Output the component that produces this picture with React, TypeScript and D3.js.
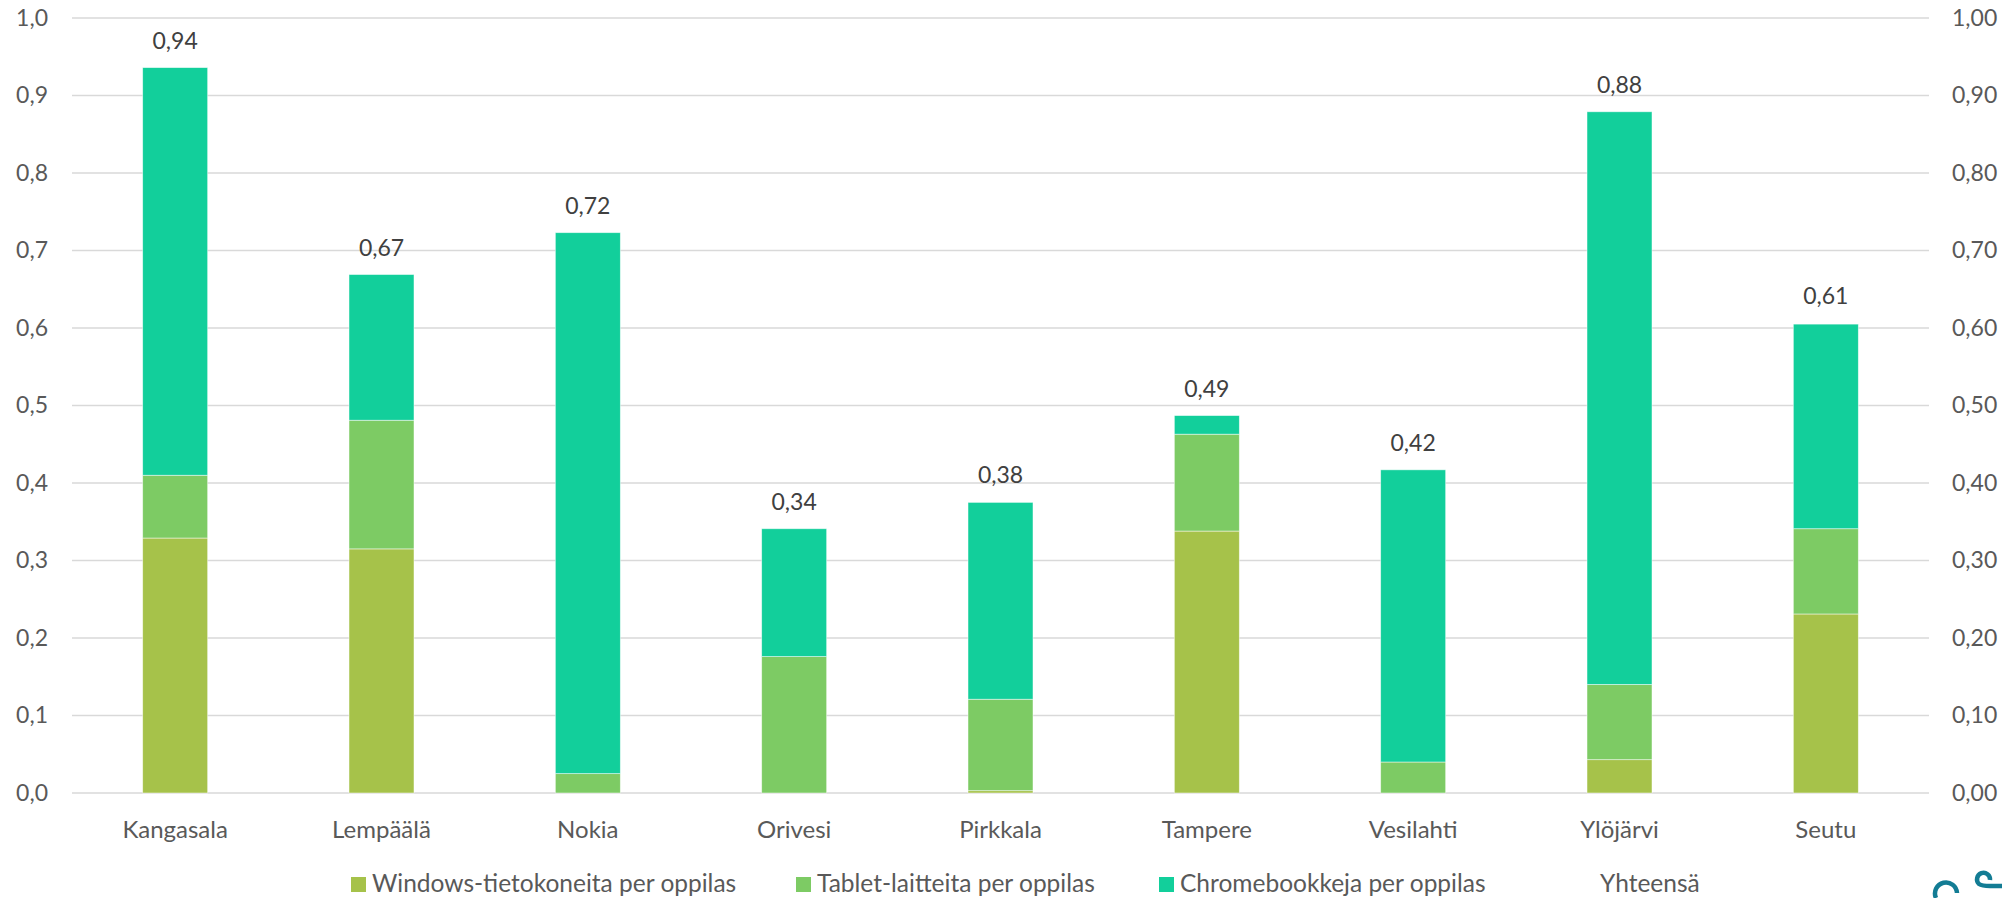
import { useEffect, useRef } from "react";
import * as d3 from "d3";

// Kunnat / categories
const categories = [
  "Kangasala",
  "Lempäälä",
  "Nokia",
  "Orivesi",
  "Pirkkala",
  "Tampere",
  "Vesilahti",
  "Ylöjärvi",
  "Seutu",
];

// stacked series, devices per pupil
const windowsValues = [0.329, 0.315, 0, 0, 0.003, 0.338, 0, 0.043, 0.231];
const tabletValues = [0.081, 0.166, 0.025, 0.176, 0.118, 0.125, 0.04, 0.097, 0.11];
const chromebookValues = [0.526, 0.188, 0.698, 0.165, 0.254, 0.024, 0.377, 0.739, 0.264];
// "Yhteensä" series (no fill, only used for the labels above the bars)
const totalValues = [0.936, 0.669, 0.723, 0.341, 0.376, 0.487, 0.417, 0.879, 0.606];

const seriesNames = [
  "Windows-tietokoneita per oppilas",
  "Tablet-laitteita per oppilas",
  "Chromebookkeja per oppilas",
  "Yhteensä",
];
const seriesColors = ["#a6c24a", "#7dcb64", "#12cf9b", "none"];

const leftTicks = [0, 0.1, 0.2, 0.3, 0.4, 0.5, 0.6, 0.7, 0.8, 0.9, 1.0];

const W = 2002;
const H = 898;
const FONT = "Lato, 'Open Sans', sans-serif";

export default function App() {
  const svgRef = useRef<SVGSVGElement>(null);

  useEffect(() => {
    if (!svgRef.current) return;
    const svg = d3.select(svgRef.current);
    svg.selectAll("*").remove();

    const plot = { left: 72, right: 1929, top: 18, bottom: 793 };

    const x = d3
      .scaleBand<string>()
      .domain(categories)
      .range([plot.left, plot.right])
      .paddingInner(0.685)
      .paddingOuter(0.3425);

    const y = d3.scaleLinear().domain([0, 1]).range([plot.bottom, plot.top]);

    const fmt1 = (v: number) => v.toFixed(1).replace(".", ",");
    const fmt2 = (v: number) => v.toFixed(2).replace(".", ",");

    // gridlines
    svg
      .append("g")
      .selectAll("line")
      .data(leftTicks)
      .enter()
      .append("line")
      .attr("x1", plot.left)
      .attr("x2", plot.right)
      .attr("y1", (d) => y(d))
      .attr("y2", (d) => y(d))
      .attr("stroke", "#d9d9d9")
      .attr("stroke-width", 1.5);

    // left axis
    const leftAxis = svg
      .append("g")
      .attr("transform", `translate(${plot.left - 24},0)`)
      .call(d3.axisLeft(y).tickValues(leftTicks).tickFormat((d) => fmt1(+d)).tickSize(0).tickPadding(0));
    leftAxis.select(".domain").remove();
    leftAxis
      .selectAll("text")
      .attr("fill", "#595959")
      .attr("font-family", FONT)
      .attr("font-size", 23);

    // right axis
    const rightAxis = svg
      .append("g")
      .attr("transform", `translate(${plot.right + 23},0)`)
      .call(d3.axisRight(y).tickValues(leftTicks).tickFormat((d) => fmt2(+d)).tickSize(0).tickPadding(0));
    rightAxis.select(".domain").remove();
    rightAxis
      .selectAll("text")
      .attr("fill", "#595959")
      .attr("font-family", FONT)
      .attr("font-size", 23);

    // stacked bars
    const rows = categories.map((c, i) => ({
      cat: c,
      windows: windowsValues[i],
      tablet: tabletValues[i],
      chrome: chromebookValues[i],
    }));
    const stack = d3.stack<(typeof rows)[number]>().keys(["windows", "tablet", "chrome"]);
    const layers = stack(rows);

    svg
      .append("g")
      .selectAll("g")
      .data(layers)
      .enter()
      .append("g")
      .attr("fill", (_, i) => seriesColors[i])
      .selectAll("rect")
      .data((d) => d.filter((s) => s[1] - s[0] > 0))
      .enter()
      .append("rect")
      .attr("x", (d) => x(d.data.cat) ?? 0)
      .attr("width", x.bandwidth())
      .attr("y", (d) => y(d[1]))
      .attr("height", (d) => y(d[0]) - y(d[1]))
      .attr("stroke", "#ffffff")
      .attr("stroke-opacity", 0.6)
      .attr("stroke-width", 0.8);

    // total labels
    svg
      .append("g")
      .selectAll("text")
      .data(totalValues)
      .enter()
      .append("text")
      .attr("x", (_, i) => (x(categories[i]) ?? 0) + x.bandwidth() / 2)
      .attr("y", (d) => y(d) - 19)
      .attr("text-anchor", "middle")
      .attr("fill", "#404040")
      .attr("font-family", FONT)
      .attr("font-size", 23)
      .text((d) => fmt2(d));

    // category labels
    svg
      .append("g")
      .selectAll("text")
      .data(categories)
      .enter()
      .append("text")
      .attr("x", (d) => (x(d) ?? 0) + x.bandwidth() / 2)
      .attr("y", 838)
      .attr("text-anchor", "middle")
      .attr("fill", "#595959")
      .attr("font-family", FONT)
      .attr("font-size", 24)
      .text((d) => d);

    // legend
    const legendX = [351, 796, 1159, 1579];
    const legend = svg
      .append("g")
      .selectAll("g")
      .data(seriesNames)
      .enter()
      .append("g")
      .attr("transform", (_, i) => `translate(${legendX[i]},877)`);
    legend
      .append("rect")
      .attr("width", 15)
      .attr("height", 15)
      .attr("fill", (_, i) => seriesColors[i]);
    legend
      .append("text")
      .attr("x", 21)
      .attr("y", 15)
      .attr("fill", "#595959")
      .attr("font-family", FONT)
      .attr("font-size", 24.5)
      .text((d) => d);

    // partial logo, bottom right corner
    const logo = svg.append("g").attr("fill", "none").attr("stroke", "#137c94").attr("stroke-width", 4.5);
    logo.append("path").attr("d", "M1936,898 A11,11 0 1 1 1957,893");
    logo.append("path").attr("d", "M1990,880 A6.5,6.5 0 1 0 1979,884 Q1982,886 1990,886 L2002,886");

    return () => {
      svg.selectAll("*").remove();
    };
  }, []);

  return (
    <svg
      ref={svgRef}
      width={W}
      height={H}
      style={{ position: "absolute", left: 0, top: 0, background: "#ffffff" }}
    />
  );
}
